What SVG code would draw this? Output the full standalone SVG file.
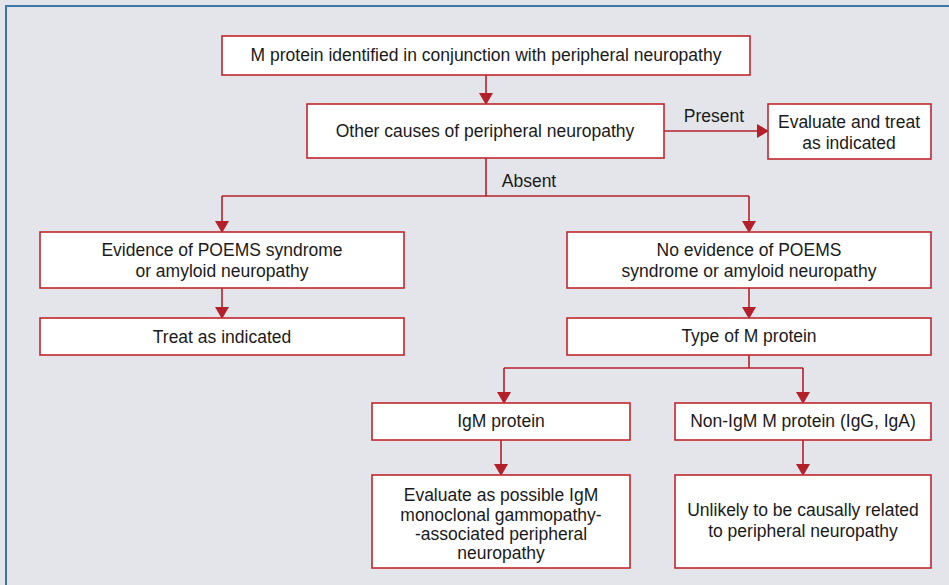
<svg xmlns="http://www.w3.org/2000/svg" width="949" height="585" viewBox="0 0 949 585">
<defs>
<style>
.bg{fill:#e4e5eb}
.frame{fill:none;stroke:#3b77a8;stroke-width:2}
.box rect{fill:#fff;stroke:#c1272d;stroke-width:1.6}
text{font-family:"Liberation Sans",Arial,sans-serif;font-size:17.5px;fill:#1a1a1a;text-anchor:middle}
.conn path{fill:none;stroke:#b3202a;stroke-width:1.6}
</style>
<marker id="ah" viewBox="0 0 12 14" refX="11" refY="7" markerWidth="12" markerHeight="14" markerUnits="userSpaceOnUse" orient="auto">
<path d="M0,0 L12,7 L0,14 Z" fill="#b3202a"/>
</marker>
</defs>
<rect class="bg" x="0" y="0" width="949" height="585"/>
<path class="frame" d="M6,585 L6,6 L949,6"/>
<g class="conn">
<path d="M486,75 V104" marker-end="url(#ah)"/>
<path d="M664,131 H768" marker-end="url(#ah)"/>
<path d="M486,158 V196"/>
<path d="M222,196 H749"/>
<path d="M222,196 V232" marker-end="url(#ah)"/>
<path d="M749,196 V232" marker-end="url(#ah)"/>
<path d="M222,288 V318" marker-end="url(#ah)"/>
<path d="M749,288 V318" marker-end="url(#ah)"/>
<path d="M749,355 V368"/>
<path d="M504,368 H803"/>
<path d="M504,368 V403" marker-end="url(#ah)"/>
<path d="M803,368 V403" marker-end="url(#ah)"/>
<path d="M501,440 V475" marker-end="url(#ah)"/>
<path d="M803,440 V475" marker-end="url(#ah)"/>
<text x="714" y="122">Present</text>
<text x="529" y="187">Absent</text>
</g>
<g id="n1" class="box"><rect x="222" y="36" width="528" height="39"/><text x="486" y="61">M protein identified in conjunction with peripheral neuropathy</text></g>
<g id="n2" class="box"><rect x="307" y="104" width="357" height="54"/><text x="485" y="137">Other causes of peripheral neuropathy</text></g>
<g id="n3" class="box"><rect x="768" y="104" width="163" height="55"/><text x="849" y="128">Evaluate and treat</text><text x="849" y="149">as indicated</text></g>
<g id="n4" class="box"><rect x="40" y="232" width="364" height="56"/><text x="222" y="256">Evidence of POEMS syndrome</text><text x="222" y="277">or amyloid neuropathy</text></g>
<g id="n5" class="box"><rect x="40" y="318" width="364" height="37"/><text x="222" y="343">Treat as indicated</text></g>
<g id="n6" class="box"><rect x="567" y="232" width="364" height="56"/><text x="749" y="256">No evidence of POEMS</text><text x="749" y="277">syndrome or amyloid neuropathy</text></g>
<g id="n7" class="box"><rect x="567" y="318" width="364" height="37"/><text x="749" y="342">Type of M protein</text></g>
<g id="n8" class="box"><rect x="372" y="403" width="258" height="37"/><text x="501" y="427">IgM protein</text></g>
<g id="n9" class="box"><rect x="675" y="403" width="256" height="37"/><text x="803" y="427">Non-IgM M protein (IgG, IgA)</text></g>
<g id="n10" class="box"><rect x="372" y="475" width="258" height="93"/><text x="501" y="501">Evaluate as possible IgM</text><text x="501" y="521">monoclonal gammopathy-</text><text x="501" y="540">-associated peripheral</text><text x="501" y="559">neuropathy</text></g>
<g id="n11" class="box"><rect x="675" y="475" width="256" height="93"/><text x="803" y="516">Unlikely to be causally related</text><text x="803" y="537">to peripheral neuropathy</text></g>
</svg>
